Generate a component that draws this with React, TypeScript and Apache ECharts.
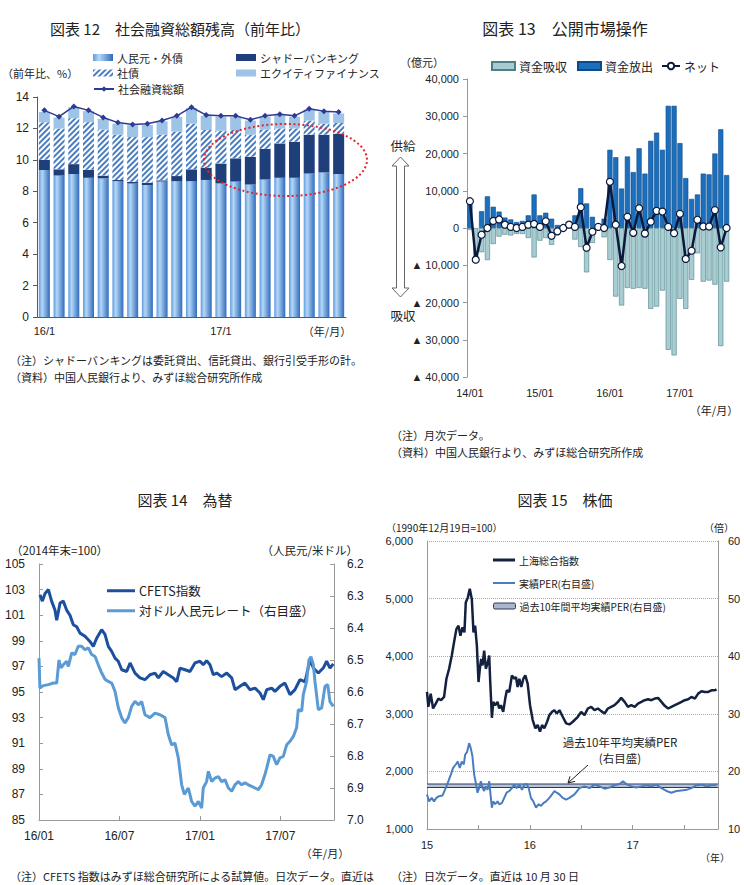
import React, { useEffect, useRef } from 'react';
import * as echarts from 'echarts';

const FONT = '"Liberation Sans", "Noto Sans CJK JP", sans-serif';
const JP = '"Noto Sans CJK JP", sans-serif';

// ---------- 図表12 ----------
const months1 = ['16/1', '16/2', '16/3', '16/4', '16/5', '16/6', '16/7', '16/8', '16/9', '16/10', '16/11', '16/12',
  '17/1', '17/2', '17/3', '17/4', '17/5', '17/6', '17/7', '17/8', '17/9'];
const rmbLoans = [9.35, 9.0, 9.1, 8.86, 8.82, 8.65, 8.5, 8.4, 8.62, 8.65, 8.65, 8.72, 8.5, 8.62, 8.43, 8.75, 8.86, 8.86, 9.13, 9.2, 9.1];
const shadowBanking = [0.65, 0.4, 0.63, 0.51, 0.18, 0.07, 0.1, 0.15, 0.08, 0.32, 0.75, 0.78, 1.27, 1.48, 1.77, 1.95, 2.19, 2.29, 2.47, 2.4, 2.57];
const corpBonds = [2.4, 2.6, 2.92, 3.03, 2.93, 2.88, 2.85, 2.9, 2.9, 2.83, 2.9, 2.4, 2.08, 1.8, 1.4, 1.23, 0.95, 0.85, 0.9, 0.7, 0.68];
const equityFin = [0.65, 0.7, 0.7, 0.7, 0.67, 0.7, 0.75, 0.77, 0.85, 0.93, 1.0, 0.9, 0.9, 0.85, 0.9, 0.82, 0.85, 0.75, 0.7, 0.75, 0.6];
const totalFinancing = [13.15, 12.75, 13.4, 13.15, 12.7, 12.37, 12.25, 12.3, 12.5, 12.8, 13.35, 12.85, 12.8, 12.8, 12.55, 12.8, 12.9, 12.8, 13.25, 13.1, 13.05];

// ---------- 図表13 ----------
const months2 = ['14/01', '14/02', '14/03', '14/04', '14/05', '14/06', '14/07', '14/08', '14/09', '14/10', '14/11', '14/12',
  '15/01', '15/02', '15/03', '15/04', '15/05', '15/06', '15/07', '15/08', '15/09', '15/10', '15/11', '15/12',
  '16/01', '16/02', '16/03', '16/04', '16/05', '16/06', '16/07', '16/08', '16/09', '16/10', '16/11', '16/12',
  '17/01', '17/02', '17/03', '17/04', '17/05', '17/06', '17/07', '17/08', '17/09'];
const absorb = [-500, -8500, -6500, -8600, -4300, -2300, -1800, -2000, -1600, -1600, -2700, -7900,
  -3400, -2700, -4500, -1700, 0, 0, -3100, -5100, -11900, -4000, 0, -2500,
  -8600, -18400, -20800, -16100, -16300, -16100, -16300, -21700, -21100, -16800, -32700, -34200,
  -19000, -21700, -13900, -6800, -14400, -14100, -15200, -31700, -14400];
const inject = [7700, 0, 4500, 8500, 5700, 4400, 2800, 2300, 1600, 1900, 3400, 9000,
  3400, 4100, 2500, 800, 0, 900, 3400, 10700, 6600, 3000, 300, 2500,
  21000, 19000, 10600, 19200, 15000, 21400, 14600, 23400, 25600, 21000, 32800, 32800,
  22800, 13400, 7800, 9000, 14600, 14400, 20000, 26500, 14200];
const netOps = [7200, -8500, -1800, 0, 1900, 2300, 900, 300, 0, 300, 900, 1100,
  300, 1800, -2100, -900, 0, 900, 300, 5600, -5300, -1000, 300, 0,
  12400, 900, -10200, 3000, -1300, 5300, -1500, 1700, 4600, 4400, 300, -1400,
  3800, -8300, -6100, 2200, 400, 400, 4800, -5200, 0];

// ---------- 図表14 (x = months since 2016/01) ----------
const monthTicks3 = ['16/01', '16/07', '17/01', '17/07'];
const cfets = [[0.07, 102.6], [0.25, 102.1], [0.45, 102.7], [0.7, 103.0], [0.94, 102.1], [1.19, 101.4], [1.32, 100.6], [1.57, 101.95],
  [1.81, 102.1], [2.06, 101.4], [2.31, 101.0], [2.56, 100.26], [2.81, 100.1], [3.06, 99.6], [3.43, 99.35], [3.8, 98.95],
  [4.05, 98.56], [4.3, 99.2], [4.67, 99.87], [4.92, 99.5], [5.17, 98.56], [5.42, 98.17], [5.67, 97.65], [5.91, 97.4],
  [6.17, 96.74], [6.54, 96.6], [6.79, 97.27], [7.16, 96.48], [7.53, 96.1], [7.9, 95.96], [8.28, 96.35], [8.65, 96.48],
  [8.9, 96.1], [9.27, 96.6], [9.64, 96.35], [10.02, 96.1], [10.27, 95.8], [10.51, 96.87], [10.89, 96.74], [11.26, 96.6],
  [11.63, 97.27], [12.01, 97.4], [12.25, 97.13], [12.5, 97.45], [12.75, 97.13], [13.0, 96.35], [13.25, 96.48], [13.62, 96.2],
  [14.0, 96.48], [14.37, 96.1], [14.62, 95.18], [14.99, 95.44], [15.36, 95.7], [15.73, 95.18], [16.11, 95.3], [16.48, 94.92],
  [16.73, 94.4], [16.98, 95.18], [17.35, 95.3], [17.6, 95.05], [17.97, 95.44], [18.34, 95.7], [18.72, 94.8], [19.09, 95.18],
  [19.46, 95.96], [19.84, 95.8], [20.21, 97.52], [20.46, 96.87], [20.83, 96.48], [21.2, 96.87], [21.45, 97.4], [21.7, 96.87], [21.95, 97.2]];
const usdCny = [[0, 6.494], [0.07, 6.588], [0.32, 6.58], [0.7, 6.577], [1.07, 6.572], [1.32, 6.572], [1.49, 6.5], [1.64, 6.525],
  [1.81, 6.515], [2.06, 6.504], [2.19, 6.52], [2.44, 6.478], [2.68, 6.483], [2.93, 6.457], [3.18, 6.457], [3.43, 6.468],
  [3.68, 6.462], [3.93, 6.483], [4.18, 6.489], [4.42, 6.515], [4.67, 6.54], [4.92, 6.56], [5.17, 6.567], [5.42, 6.572],
  [5.67, 6.598], [5.92, 6.65], [6.16, 6.68], [6.41, 6.697], [6.66, 6.68], [6.91, 6.645], [7.16, 6.629], [7.41, 6.64],
  [7.66, 6.63], [7.9, 6.671], [8.28, 6.68], [8.65, 6.666], [9.02, 6.671], [9.4, 6.68], [9.64, 6.733], [9.89, 6.765],
  [10.14, 6.76], [10.39, 6.806], [10.64, 6.89], [10.84, 6.92], [11.14, 6.9], [11.38, 6.942], [11.63, 6.957], [11.88, 6.942],
  [12.13, 6.963], [12.25, 6.9], [12.5, 6.88], [12.63, 6.848], [12.88, 6.88], [13.12, 6.869], [13.37, 6.864], [13.62, 6.88],
  [13.87, 6.874], [14.12, 6.9], [14.37, 6.91], [14.62, 6.89], [14.86, 6.88], [15.11, 6.89], [15.36, 6.884], [15.61, 6.89],
  [15.86, 6.895], [16.11, 6.9], [16.36, 6.905], [16.6, 6.89], [16.85, 6.858], [16.98, 6.838], [17.23, 6.796], [17.47, 6.801],
  [17.72, 6.827], [17.97, 6.806], [18.22, 6.801], [18.47, 6.765], [18.72, 6.754], [18.97, 6.739], [19.21, 6.712], [19.34, 6.655],
  [19.59, 6.66], [19.71, 6.608], [19.96, 6.567], [20.13, 6.5], [20.28, 6.49], [20.46, 6.515], [20.58, 6.567], [20.83, 6.655],
  [21.08, 6.65], [21.33, 6.582], [21.53, 6.577], [21.7, 6.63], [21.95, 6.645]];

// ---------- 図表15 (x = years since 2015/01/01) ----------
const yearTicks4 = ['15', '16', '17'];
const shanghai = [[0, 3379], [0.013, 3121], [0.036, 3350], [0.059, 3092], [0.085, 3178], [0.111, 3264], [0.137, 3236], [0.166, 3293],
  [0.189, 3609], [0.215, 3782], [0.241, 4011], [0.263, 4241], [0.286, 4471], [0.306, 4529], [0.325, 4356], [0.345, 4500],
  [0.364, 4414], [0.377, 4931], [0.397, 5017], [0.416, 5172], [0.436, 4989], [0.452, 4414], [0.468, 4529], [0.485, 4184],
  [0.501, 3552], [0.514, 3782], [0.527, 3954], [0.54, 3839], [0.556, 4098], [0.572, 3782], [0.592, 3897], [0.605, 4011],
  [0.615, 3552], [0.631, 2931], [0.644, 3207], [0.663, 3149], [0.686, 3207], [0.702, 3092], [0.719, 3149], [0.741, 3034],
  [0.761, 3264], [0.777, 3408], [0.8, 3379], [0.826, 3667], [0.849, 3609], [0.865, 3638], [0.881, 3466], [0.898, 3609],
  [0.917, 3466], [0.937, 3609], [0.956, 3667], [0.979, 3523], [1.002, 3149], [1.028, 2891], [1.054, 2747], [1.076, 2805],
  [1.099, 2690], [1.119, 2805], [1.141, 2747], [1.168, 2862], [1.19, 2977], [1.216, 3034], [1.239, 3063], [1.262, 3006],
  [1.288, 3063], [1.32, 2948], [1.353, 2833], [1.385, 2816], [1.418, 2862], [1.467, 2948], [1.499, 3034], [1.532, 2977],
  [1.564, 3092], [1.597, 3121], [1.629, 3063], [1.662, 3092], [1.694, 3046], [1.727, 3006], [1.759, 3092], [1.792, 3121],
  [1.824, 3149], [1.857, 3207], [1.889, 3276], [1.922, 3207], [1.954, 3121], [1.987, 3149], [2.02, 3121], [2.052, 3178],
  [2.085, 3207], [2.117, 3236], [2.15, 3253], [2.182, 3236], [2.215, 3264], [2.247, 3276], [2.28, 3207], [2.312, 3138],
  [2.345, 3092], [2.377, 3121], [2.41, 3149], [2.442, 3178], [2.475, 3207], [2.507, 3236], [2.54, 3253], [2.572, 3293],
  [2.605, 3264], [2.637, 3350], [2.67, 3391], [2.702, 3379], [2.735, 3379], [2.767, 3408], [2.8, 3408], [2.816, 3425]];
const per = [[0, 15.98], [0.02, 14.8], [0.046, 15.4], [0.068, 14.8], [0.091, 15.4], [0.117, 15.7], [0.15, 15.8], [0.182, 17.1],
  [0.208, 18.3], [0.231, 19.4], [0.254, 20.6], [0.28, 21.2], [0.299, 21.7], [0.319, 20.6], [0.338, 21.7], [0.358, 21.2],
  [0.371, 22.9], [0.39, 23.4], [0.41, 24.9], [0.426, 24.0], [0.442, 22.6], [0.459, 19.4], [0.475, 18.0], [0.491, 16.3],
  [0.507, 17.1], [0.524, 18.3], [0.54, 17.1], [0.556, 16.6], [0.572, 17.4], [0.589, 16.8], [0.605, 18.3], [0.621, 15.4],
  [0.631, 13.7], [0.644, 14.8], [0.663, 14.3], [0.686, 14.8], [0.702, 14.3], [0.728, 14.5], [0.751, 15.4], [0.774, 16.3],
  [0.8, 16.6], [0.826, 17.1], [0.849, 17.7], [0.872, 17.1], [0.898, 17.7], [0.924, 16.8], [0.946, 17.7], [0.969, 17.8],
  [0.989, 17.1], [1.011, 15.4], [1.034, 14.8], [1.06, 13.7], [1.086, 14.3], [1.109, 14.0], [1.132, 14.5], [1.158, 14.8],
  [1.19, 15.4], [1.216, 16.0], [1.239, 16.6], [1.262, 16.3], [1.288, 16.0], [1.32, 15.4], [1.353, 15.1], [1.385, 15.4],
  [1.434, 16.0], [1.483, 17.1], [1.532, 17.4], [1.58, 17.1], [1.629, 17.7], [1.678, 17.4], [1.727, 17.0], [1.776, 17.2],
  [1.824, 17.6], [1.873, 17.8], [1.906, 18.3], [1.938, 17.8], [1.987, 17.4], [2.036, 17.2], [2.085, 17.4], [2.133, 17.6],
  [2.182, 17.4], [2.231, 17.7], [2.28, 17.1], [2.329, 16.6], [2.377, 16.3], [2.426, 16.6], [2.475, 16.7], [2.524, 16.8],
  [2.572, 17.1], [2.621, 17.6], [2.67, 17.7], [2.719, 17.4], [2.767, 17.6], [2.816, 17.6]];
const avgPer = [[0, 17.5], [2.83, 17.5]];

const txt = (text: string, x: number, y: number, size: number, align = 'left', family = JP) => ({
  type: 'text',
  style: { text, x, y, fontSize: size, fontFamily: family, fill: '#222', align, verticalAlign: 'middle' },
  silent: true,
});

const legendBase = (name: any, left: number, top: number, w: number, h: number, size: number) => ({
  data: [name], left, top, itemWidth: w, itemHeight: h, padding: 0, selectedMode: false,
  textStyle: { fontSize: size, fontFamily: JP, color: '#222', padding: [0, 0, 0, -1] },
});

const axisLblStyle = (size: number, margin: number) => ({ color: '#222', fontSize: size, fontFamily: FONT, margin });

export default function App() {
  const ref = useRef<HTMLDivElement>(null);
  useEffect(() => {
    if (!ref.current) return;
    const chart = echarts.init(ref.current, undefined, { renderer: 'svg' });
    const rmbGrad = new echarts.graphic.LinearGradient(0, 0, 1, 0, [
      { offset: 0, color: '#5d9be0' },
      { offset: 0.3, color: '#b5d8f6' },
      { offset: 1, color: '#2f6bbd' },
    ]);
    const option: any = {
      animation: false,
      backgroundColor: '#ffffff',
      textStyle: { fontFamily: FONT },
      grid: [
        { left: 37, top: 97, width: 309, height: 220 },
        { left: 467, top: 79, width: 262.5, height: 298 },
        { left: 39, top: 564, width: 295, height: 256 },
        { left: 427, top: 541, width: 291, height: 288 },
      ],
      xAxis: [
        {
          type: 'category', gridIndex: 0, data: months1,
          axisLine: { lineStyle: { color: '#595959' } }, axisTick: { show: false },
          axisLabel: { ...axisLblStyle(11, 8), interval: 11 },
        },
        {
          type: 'category', gridIndex: 1, data: months2, position: 'bottom',
          axisLine: { show: false, onZero: false }, axisTick: { show: false },
          axisLabel: { ...axisLblStyle(11, 10), interval: 11 },
        },
        {
          type: 'value', gridIndex: 2, min: 0, max: 22, interval: 6,
          axisLine: { lineStyle: { color: '#999' } },
          axisTick: { inside: true, length: 4, lineStyle: { color: '#999' } },
          splitLine: { show: false },
          axisLabel: { ...axisLblStyle(12, 10), showMaxLabel: false, formatter: (v: number) => monthTicks3[v / 6] ?? '' },
        },
        {
          type: 'value', gridIndex: 3, min: 0, max: 2.83, interval: 0.5,
          axisLine: { lineStyle: { color: '#999' } },
          axisTick: { inside: true, length: 4, lineStyle: { color: '#999' } },
          splitLine: { show: false },
          axisLabel: { ...axisLblStyle(11, 10), showMaxLabel: false, formatter: (v: number) => (Number.isInteger(v) ? yearTicks4[v] ?? '' : '') },
        },
      ],
      yAxis: [
        {
          type: 'value', gridIndex: 0, min: 0, max: 14, interval: 2,
          axisLine: { show: true, lineStyle: { color: '#595959' } },
          axisTick: { show: true, length: 4, lineStyle: { color: '#595959' } },
          splitLine: { show: false },
          axisLabel: axisLblStyle(12, 8),
        },
        {
          type: 'value', gridIndex: 1, min: -40000, max: 40000, interval: 10000,
          axisLine: { show: true, lineStyle: { color: '#999' } },
          axisTick: { show: true, length: 4, lineStyle: { color: '#999' } },
          splitLine: { show: false },
          axisLabel: {
            ...axisLblStyle(11, 8),
            formatter: (v: number) => (v < 0 ? '▲ ' + Math.abs(v).toLocaleString('en-US') : v.toLocaleString('en-US')),
          },
        },
        {
          type: 'value', gridIndex: 2, position: 'left', min: 85, max: 105, interval: 2,
          axisLine: { show: true, lineStyle: { color: '#999' } },
          axisTick: { show: true, inside: true, length: 4, lineStyle: { color: '#999' } },
          splitLine: { show: false },
          axisLabel: axisLblStyle(12, 14),
        },
        {
          type: 'value', gridIndex: 2, position: 'right', min: 6.2, max: 7.0, interval: 0.1, inverse: true,
          axisLine: { show: true, lineStyle: { color: '#999' } },
          axisTick: { show: true, inside: true, length: 4, lineStyle: { color: '#999' } },
          splitLine: { show: false },
          axisLabel: { ...axisLblStyle(12, 13), formatter: (v: number) => v.toFixed(1) },
        },
        {
          type: 'value', gridIndex: 3, position: 'left', min: 1000, max: 6000, interval: 1000,
          axisLine: { show: true, lineStyle: { color: '#999' } },
          axisTick: { show: false },
          splitLine: { show: true, lineStyle: { type: 'dotted', color: '#aaa' } },
          axisLabel: { ...axisLblStyle(11, 14), formatter: (v: number) => v.toLocaleString('en-US') },
        },
        {
          type: 'value', gridIndex: 3, position: 'right', min: 10, max: 60, interval: 10,
          axisLine: { show: true, lineStyle: { color: '#999' } },
          axisTick: { show: false },
          splitLine: { show: false },
          axisLabel: axisLblStyle(11, 10),
        },
      ],
      legend: [
        legendBase({ name: '人民元・外債', icon: 'rect' }, 93, 52, 20, 7, 11),
        legendBase({ name: 'シャドーバンキング', icon: 'rect' }, 236, 52, 20, 7, 11),
        legendBase({ name: '社債', icon: 'rect' }, 93, 67.5, 20, 7, 11),
        legendBase({ name: 'エクイティファイナンス', icon: 'rect' }, 236, 67.5, 20, 7, 11),
        legendBase('社会融資総額', 93, 83.5, 20, 7, 11),
        legendBase({ name: '資金吸収', icon: 'rect' }, 491, 60, 23, 8, 12),
        legendBase({ name: '資金放出', icon: 'rect' }, 577, 60, 23, 8, 12),
        legendBase('ネット', 661, 60, 18, 8, 12),
        legendBase({ name: 'CFETS指数', icon: 'rect' }, 107, 584.5, 28, 3, 12.5),
        legendBase({ name: '対ドル人民元レート（右目盛）', icon: 'rect' }, 107, 604.5, 28, 3, 12.5),
        legendBase({ name: '上海総合指数', icon: 'rect' }, 493, 555, 22, 3, 10),
        legendBase({ name: '実績PER(右目盛)', icon: 'rect' }, 493, 578, 22, 2, 10),
        legendBase({
          name: '過去10年間平均実績PER(右目盛)', icon: 'roundRect',
          itemStyle: { color: '#a9b6cb', borderColor: '#2a3a5c', borderWidth: 1 },
        }, 493, 601, 22, 6, 10),
      ],
      series: [
        // 図表12
        { name: '人民元・外債', type: 'bar', xAxisIndex: 0, yAxisIndex: 0, stack: 'p1', data: rmbLoans, barCategoryGap: '25%', itemStyle: { color: rmbGrad } },
        { name: 'シャドーバンキング', type: 'bar', xAxisIndex: 0, yAxisIndex: 0, stack: 'p1', data: shadowBanking, itemStyle: { color: '#1f3f7a' } },
        {
          name: '社債', type: 'bar', xAxisIndex: 0, yAxisIndex: 0, stack: 'p1', data: corpBonds,
          itemStyle: {
            color: '#ffffff',
            decal: { symbol: 'rect', symbolSize: 1, color: '#4a7cc0', dashArrayX: [1, 0], dashArrayY: [1.5, 2], rotation: -Math.PI / 4 },
          },
        },
        { name: 'エクイティファイナンス', type: 'bar', xAxisIndex: 0, yAxisIndex: 0, stack: 'p1', data: equityFin, itemStyle: { color: '#9dc3e6' } },
        {
          name: '社会融資総額', type: 'line', xAxisIndex: 0, yAxisIndex: 0, data: totalFinancing,
          symbol: 'diamond', symbolSize: 6, showAllSymbol: true, lineStyle: { color: '#2e3a94', width: 1.5 }, itemStyle: { color: '#2e3a94' }, z: 5,
        },
        // 図表13
        {
          name: '資金吸収', type: 'bar', xAxisIndex: 1, yAxisIndex: 1, stack: 'p2', data: absorb, barCategoryGap: '12%',
          itemStyle: { color: '#a6cdd1', borderColor: '#4f7f86', borderWidth: 0.6 },
        },
        {
          name: '資金放出', type: 'bar', xAxisIndex: 1, yAxisIndex: 1, stack: 'p2', data: inject,
          itemStyle: { color: '#1b6fbd', borderColor: '#0d4a8a', borderWidth: 0.6 },
        },
        {
          name: 'ネット', type: 'line', xAxisIndex: 1, yAxisIndex: 1, data: netOps,
          symbol: 'circle', symbolSize: 7, showSymbol: true, showAllSymbol: true, lineStyle: { color: '#0b1a3c', width: 2.5 },
          itemStyle: { color: '#ffffff', borderColor: '#0b1a3c', borderWidth: 1.2 }, z: 5,
        },
        // 図表14
        { name: 'CFETS指数', type: 'line', xAxisIndex: 2, yAxisIndex: 2, data: cfets, showSymbol: false, symbol: 'none', lineStyle: { color: '#1d4f9e', width: 3 }, itemStyle: { color: '#1d4f9e' } },
        { name: '対ドル人民元レート（右目盛）', type: 'line', xAxisIndex: 2, yAxisIndex: 3, data: usdCny, showSymbol: false, symbol: 'none', lineStyle: { color: '#5b9bd5', width: 3 }, itemStyle: { color: '#5b9bd5' } },
        // 図表15
        { name: '過去10年間平均実績PER(右目盛)', type: 'line', xAxisIndex: 3, yAxisIndex: 5, data: avgPer, symbol: 'none', lineStyle: { color: '#2a3a5c', width: 4.5 }, itemStyle: { color: '#a9b6cb' } },
        { name: 'avgPerInner', type: 'line', xAxisIndex: 3, yAxisIndex: 5, data: avgPer, symbol: 'none', lineStyle: { color: '#b8c4d6', width: 2.5 } },
        { name: '実績PER(右目盛)', type: 'line', xAxisIndex: 3, yAxisIndex: 5, data: per, symbol: 'none', lineStyle: { color: '#4a7cc0', width: 2 }, itemStyle: { color: '#4a7cc0' } },
        { name: '上海総合指数', type: 'line', xAxisIndex: 3, yAxisIndex: 4, data: shanghai, symbol: 'none', lineStyle: { color: '#13213f', width: 2.5 }, itemStyle: { color: '#13213f' } },
      ],
      graphic: [
        // 図表12
        txt('図表 12　社会融資総額残高（前年比）', 180, 28, 15, 'center'),
        txt('（前年比、%）', 2, 73, 11),
        txt('（年/月）', 327, 331, 11, 'center'),
        txt('（注）シャドーバンキングは委託貸出、信託貸出、銀行引受手形の計。', 10, 360, 11),
        txt('（資料）中国人民銀行より、みずほ総合研究所作成', 10, 377, 11),
        {
          type: 'ellipse', silent: true, z: 100,
          shape: { cx: 285.5, cy: 160, rx: 81.5, ry: 36 },
          style: { fill: 'none', stroke: '#e0262b', lineWidth: 2, lineDash: [2, 2.5] },
        },
        // 図表13
        txt('図表 13　公開市場操作', 565, 28, 16, 'center'),
        txt('（億元）', 400, 62, 11),
        txt('供給', 403, 145, 12.5, 'center'),
        txt('吸収', 403, 315, 12.5, 'center'),
        {
          type: 'polygon', silent: true,
          shape: { points: [[400.5, 157], [409, 166], [404.5, 166], [404.5, 288], [409, 288], [400.5, 297], [392, 288], [396.5, 288], [396.5, 166], [392, 166]] },
          style: { fill: '#ffffff', stroke: '#666', lineWidth: 1 },
        },
        txt('（年/月）', 714, 410, 11, 'center'),
        txt('（注）月次データ。', 391, 435, 11),
        txt('（資料）中国人民銀行より、みずほ総合研究所作成', 391, 452, 11),
        // 図表14
        txt('図表 14　為替', 185, 499, 15, 'center'),
        txt('（2014年末=100）', 11, 550, 11.5),
        txt('（人民元/米ドル）', 358, 550, 11.5, 'right'),
        txt('（年/月）', 325, 853, 11, 'center'),
        txt('（注）CFETS 指数はみずほ総合研究所による試算値。日次データ。直近は', 10, 876, 11),
        // 図表15
        txt('図表 15　株価', 565, 499, 15, 'center'),
        txt('（1990年12月19日=100）', 386, 527, 10),
        txt('（倍）', 719, 527, 10, 'center'),
        txt('（年）', 715, 857, 10, 'center'),
        txt('過去10年平均実績PER', 620, 742, 11.5, 'center'),
        txt('(右目盛)', 620, 758, 11.5, 'center'),
        { type: 'line', silent: true, shape: { x1: 588, y1: 765, x2: 568, y2: 783 }, style: { stroke: '#222', lineWidth: 1 } },
        { type: 'polyline', silent: true, shape: { points: [[575, 781.4], [568, 783], [570, 776.3]] }, style: { stroke: '#222', lineWidth: 1, fill: 'none' } },
        txt('（注）日次データ。直近は 10 月 30 日', 391, 876, 11),
      ],
    };
    chart.setOption(option);
    return () => chart.dispose();
  }, []);
  return (
    <div
      ref={ref}
      style={{ position: 'absolute', left: 0, top: 0, width: 744, height: 885, background: '#fff' }}
    />
  );
}
